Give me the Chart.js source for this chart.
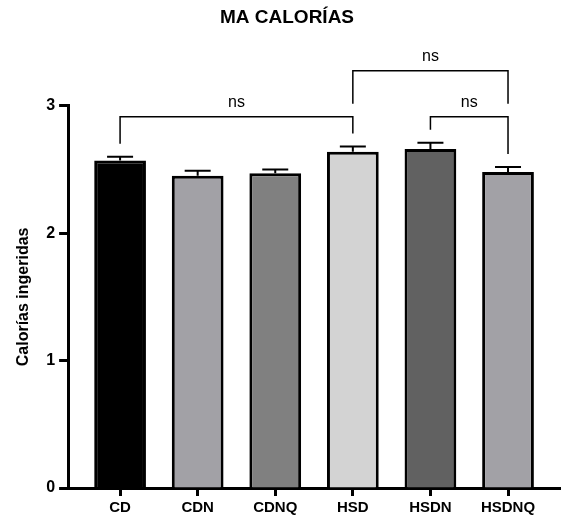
<!DOCTYPE html>
<html>
<head>
<meta charset="utf-8">
<script src="https://cdn.jsdelivr.net/npm/chart.js@4"></script>
<style>
  html, body { margin: 0; padding: 0; background: #fff; }
  #wrap { width: 568px; height: 518px; }
</style>
</head>
<body>
<div id="wrap"><canvas id="c" width="568" height="518"></canvas></div>
<script>
const categories = ["CD", "CDN", "CDNQ", "HSD", "HSDN", "HSDNQ"];
const means = [2.57, 2.45, 2.47, 2.64, 2.66, 2.48];
const sems = [0.03, 0.04, 0.03, 0.04, 0.05, 0.04];
const barColors = ["#000000", "#a2a1a6", "#808080", "#d3d3d3", "#616161", "#a2a1a6"];
const yTicks = [0, 1, 2, 3];
// significance comparisons: [from index, to index, bracket level], label
const comparisons = [[0, 3, 0], [3, 5, 1], [4, 5, 0]];
const compLabels = ["ns", "ns", "ns"];

const FONT = "'Liberation Sans', Arial, sans-serif";

const errorBarPlugin = {
  id: 'errorBars',
  afterDatasetsDraw(chart) {
    const meta = chart.getDatasetMeta(0);
    const y = chart.scales.y;
    const ctx = chart.ctx;
    ctx.save();
    ctx.strokeStyle = '#000';
    ctx.lineWidth = 2;
    meta.data.forEach((bar, i) => {
      const yTop = y.getPixelForValue(means[i] + sems[i]);
      const yBase = y.getPixelForValue(means[i]);
      ctx.beginPath();
      ctx.moveTo(bar.x, yBase);
      ctx.lineTo(bar.x, yTop);
      ctx.moveTo(bar.x - 13, yTop);
      ctx.lineTo(bar.x + 13, yTop);
      ctx.stroke();
    });
    ctx.restore();
  }
};

const bracketPlugin = {
  id: 'brackets',
  afterDraw(chart, args, opts) {
    const x = chart.scales.x, y = chart.scales.y;
    const ctx = chart.ctx;
    const top = chart.chartArea.top;
    const levelY = (lvl) => top + opts.levelOffsets[lvl];
    const legEnd = (idx, lvl) => {
      let best = null;
      comparisons.forEach(([a, b, l]) => {
        if (l < lvl && idx >= a && idx <= b) {
          const yy = levelY(l) - opts.gap;
          if (best === null || yy < best) best = yy;
        }
      });
      if (best !== null) return best;
      return y.getPixelForValue(means[idx] + sems[idx]) - opts.gap;
    };
    ctx.save();
    ctx.strokeStyle = '#000';
    ctx.lineWidth = 1.5;
    ctx.fillStyle = '#000';
    ctx.font = "16px " + FONT;
    ctx.textAlign = 'center';
    ctx.textBaseline = 'alphabetic';
    comparisons.forEach(([a, b, lvl], k) => {
      const xa = x.getPixelForValue(a), xb = x.getPixelForValue(b);
      const ly = levelY(lvl);
      ctx.beginPath();
      ctx.moveTo(xa, legEnd(a, lvl));
      ctx.lineTo(xa, ly);
      ctx.lineTo(xb, ly);
      ctx.lineTo(xb, legEnd(b, lvl));
      ctx.stroke();
      ctx.fillText(compLabels[k], (xa + xb) / 2, ly - 10);
    });
    ctx.restore();
  }
};

new Chart(document.getElementById('c'), {
  type: 'bar',
  data: {
    datasets: [{
      data: means.map((v, i) => ({ x: i, y: v })),
      backgroundColor: barColors,
      borderColor: '#000',
      borderWidth: 3,
      borderSkipped: 'bottom',
      categoryPercentage: 1,
      barPercentage: 0.667
    }]
  },
  options: {
    responsive: false,
    animation: false,
    devicePixelRatio: 1,
    layout: { padding: { left: 14, right: 8, top: 0, bottom: -1 } },
    plugins: {
      legend: { display: false },
      tooltip: { enabled: false },
      title: {
        display: true,
        text: 'MA CALORÍAS',
        color: '#000',
        font: { family: FONT, size: 19, weight: 'bold' },
        padding: { top: 6, bottom: 77 }
      },
      brackets: { levelOffsets: [11, -35], gap: 13 }
    },
    scales: {
      x: {
        type: 'linear',
        min: -0.67,
        max: 5.67,
        offset: false,
        afterBuildTicks(scale) { scale.ticks = categories.map((c, i) => ({ value: i })); },
        ticks: {
          autoSkip: false,
          maxRotation: 0,
          color: '#000',
          padding: 4,
          font: { family: FONT, size: 15, weight: 'bold', lineHeight: 1 },
          callback: (v) => categories[v]
        },
        grid: { display: true, offset: false, drawOnChartArea: false, drawTicks: true, tickLength: 8, tickWidth: 3, tickColor: '#000' },
        border: { display: true, color: '#000', width: 3 }
      },
      y: {
        min: 0,
        max: 3,
        afterBuildTicks(scale) { scale.ticks = yTicks.map(v => ({ value: v })); },
        ticks: {
          color: '#000',
          padding: 4,
          font: { family: FONT, size: 16, weight: 'bold' }
        },
        grid: { drawOnChartArea: false, drawTicks: true, tickLength: 9, tickWidth: 3, tickColor: '#000' },
        border: { display: true, color: '#000', width: 3 },
        title: {
          display: true,
          text: 'Calorías ingeridas',
          color: '#000',
          font: { family: FONT, size: 16, weight: 'bold' },
          padding: { top: 0, bottom: 9 }
        }
      }
    }
  },
  plugins: [errorBarPlugin, bracketPlugin]
});
</script>
</body>
</html>
